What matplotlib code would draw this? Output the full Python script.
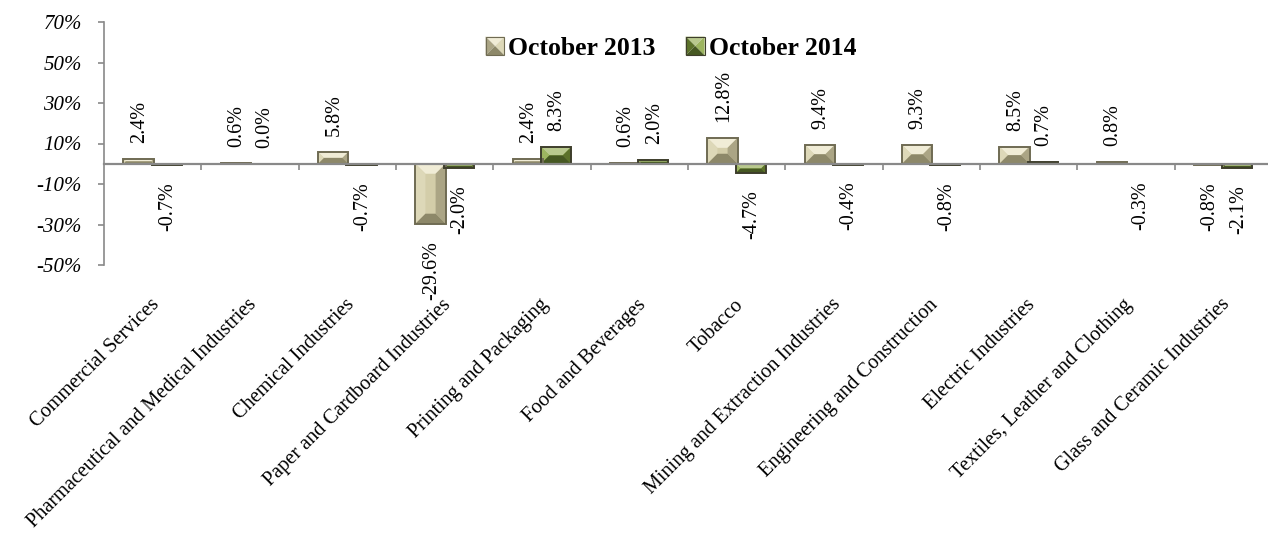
import matplotlib
matplotlib.use('Agg')
import matplotlib.pyplot as plt
import numpy as np
from matplotlib.patches import Polygon, Rectangle
from matplotlib import transforms
from matplotlib.legend_handler import HandlerBase

categories = ['Commercial Services', 'Pharmaceutical and Medical Industries',
              'Chemical Industries', 'Paper and Cardboard Industries',
              'Printing and Packaging', 'Food and Beverages', 'Tobacco',
              'Mining and Extraction Industries', 'Engineering and Construction',
              'Electric Industries', 'Textiles, Leather and Clothing',
              'Glass and Ceramic Industries']
oct_2013 = [2.4, 0.6, 5.8, -29.6, 2.4, 0.6, 12.8, 9.4, 9.3, 8.5, 0.8, -0.8]
oct_2014 = [-0.7, 0.0, -0.7, -2.0, 8.3, 2.0, -4.7, -0.4, -0.8, 0.7, -0.3, -2.1]
series_names = ['October 2013', 'October 2014']
yticks = [-50, -30, -10, 10, 30, 50, 70]

SERIF = ['Liberation Serif', 'DejaVu Serif']
GRAY = '#898989'
C13 = dict(center='#D3CDA9', top='#F0ECD6', left='#DDD8B8', right='#ABA585',
           bottom='#8D8869', edge='#6F6B53')
C14 = dict(center='#88AB40', top='#B9C98E', left='#9DB560', right='#5C722A',
           bottom='#465822', edge='#3E3E2C')

W, H = 1268, 536
fig = plt.figure(figsize=(W / 100, H / 100), dpi=100)
ax = fig.add_axes([104 / W, 1 - 265 / H, 1 - 104 / W, (265 - 22) / H])

x = np.arange(len(categories))
bw = 0.31
off = 0.145
bars13 = ax.bar(x - off, oct_2013, width=bw, color=C13['center'], linewidth=0, zorder=2)
bars14 = ax.bar(x + off, oct_2014, width=bw, color=C14['center'], linewidth=0, zorder=2)

ax.set_xlim(-0.5, 11.46)
ax.set_ylim(-50, 70)

# axes styling
for s in ['top', 'right']:
    ax.spines[s].set_visible(False)
ax.spines['left'].set_color(GRAY)
ax.spines['left'].set_linewidth(1.2)
ax.spines['bottom'].set_position(('data', 0))
ax.spines['bottom'].set_color(GRAY)
ax.spines['bottom'].set_linewidth(1.6)
ax.spines['bottom'].set_zorder(6)
ax.set_xticks(np.arange(0.5, 11.0, 1.0))
ax.set_xticklabels([])
ax.tick_params(axis='x', direction='out', length=4, color=GRAY, width=1.2)
ax.set_yticks(yticks)
ax.set_yticklabels([f'{v}%' for v in yticks], fontstyle='italic', family=SERIF, fontsize=15)
ax.tick_params(axis='y', direction='out', length=4, color=GRAY, width=1.2, pad=12)

# bevel effect
fig.canvas.draw()
renderer = fig.canvas.get_renderer()
inv = ax.transData.inverted()


def bevel(bars, c, d_max=10):
    for p in bars:
        bb = p.get_window_extent(renderer)
        x0, y0, x1, y1 = bb.x0, bb.y0, bb.x1, bb.y1
        w, h = x1 - x0, y1 - y0
        d = min(d_max, w / 2, h / 2)
        polys = [
            ([(x0, y1), (x1, y1), (x1 - d, y1 - d), (x0 + d, y1 - d)], c['top']),
            ([(x0, y0), (x0, y1), (x0 + d, y1 - d), (x0 + d, y0 + d)], c['left']),
            ([(x1, y0), (x1, y1), (x1 - d, y1 - d), (x1 - d, y0 + d)], c['right']),
            ([(x0, y0), (x1, y0), (x1 - d, y0 + d), (x0 + d, y0 + d)], c['bottom']),
        ]
        for pts, col in polys:
            ax.add_patch(Polygon(inv.transform(pts), closed=True, facecolor=col,
                                 edgecolor='none', zorder=3))
        ax.add_patch(Rectangle(p.get_xy(), p.get_width(), p.get_height(),
                               facecolor='none', edgecolor=c['edge'], lw=1.4, zorder=4))


bevel(bars13, C13)
bevel(bars14, C14)

# data labels
for bars, vals in [(bars13, oct_2013), (bars14, oct_2014)]:
    for p, v in zip(bars, vals):
        xc = p.get_x() + p.get_width() / 2
        if v >= 0:
            tr = transforms.offset_copy(ax.transData, fig=fig, x=1, y=16, units='dots')
            va = 'bottom'
        else:
            tr = transforms.offset_copy(ax.transData, fig=fig, x=1, y=-17, units='dots')
            va = 'top'
        ax.text(xc, v, f'{v:.1f}%', rotation=90, ha='center', va=va, transform=tr,
                family=SERIF, fontsize=14.5, color='black', zorder=7)

# category labels
trc = transforms.offset_copy(ax.transData, fig=fig, x=4, y=-37, units='dots')
for i, lab in enumerate(categories):
    ax.text(x[i], -50, lab, rotation=45, ha='right', va='center', rotation_mode='anchor',
            transform=trc, family=SERIF, fontsize=14.6, color='black')


# legend with bevelled squares
class BevelHandler(HandlerBase):
    def __init__(self, c):
        super().__init__()
        self.c = c

    def create_artists(self, legend, orig_handle, xdescent, ydescent, width, height,
                       fontsize, trans):
        s = height * 1.0
        x0, y0 = -xdescent + (width - s) / 2, -ydescent + (height - s) / 2
        x1, y1 = x0 + s, y0 + s
        d = s / 2
        c = self.c
        arts = []
        polys = [
            ([(x0, y1), (x1, y1), (x1 - d, y1 - d), (x0 + d, y1 - d)], c['top']),
            ([(x0, y0), (x0, y1), (x0 + d, y1 - d), (x0 + d, y0 + d)], c['right']),
            ([(x1, y0), (x1, y1), (x1 - d, y1 - d), (x1 - d, y0 + d)], c['left']),
            ([(x0, y0), (x1, y0), (x1 - d, y0 + d), (x0 + d, y0 + d)], c['bottom']),
        ]
        for pts, col in polys:
            arts.append(Polygon(pts, closed=True, facecolor=col, edgecolor='none',
                                transform=trans))
        arts.append(Rectangle((x0, y0), s, s, facecolor='none', edgecolor=c['edge'],
                              lw=0.8, transform=trans))
        return arts


h13 = Rectangle((0, 0), 1, 1)
h14 = Rectangle((0, 0), 1, 1)
leg = fig.legend([h13, h14], series_names, loc='center', bbox_to_anchor=(0.529, 0.91),
                 ncol=2, frameon=False, handlelength=0.75, handleheight=0.75,
                 handletextpad=0.15, columnspacing=1.15,
                 handler_map={h13: BevelHandler(C13), h14: BevelHandler(C14)},
                 prop=dict(family=SERIF, size=18.5, weight='bold'))

fig.savefig('out.png', dpi=100)
